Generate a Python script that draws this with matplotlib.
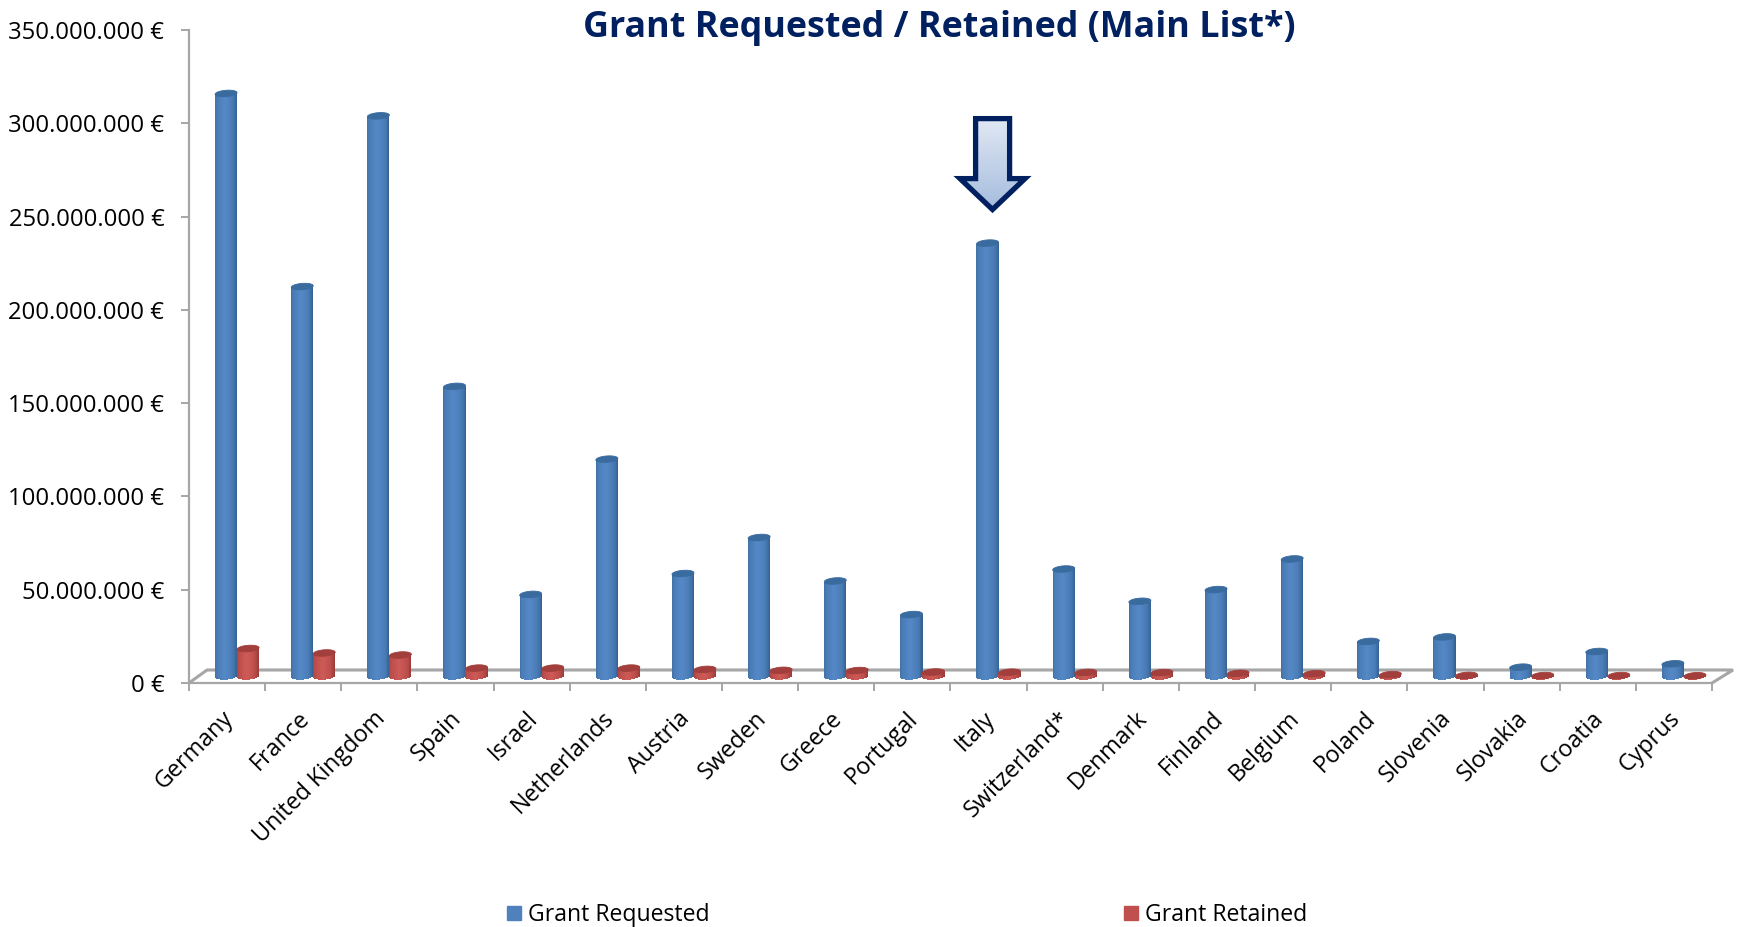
import numpy as np
import matplotlib
matplotlib.use('Agg')
import matplotlib.pyplot as plt
from matplotlib.patches import Patch, Polygon
from matplotlib.transforms import Affine2D

countries = ['Germany', 'France', 'United Kingdom', 'Spain', 'Israel', 'Netherlands',
             'Austria', 'Sweden', 'Greece', 'Portugal', 'Italy', 'Switzerland*',
             'Denmark', 'Finland', 'Belgium', 'Poland', 'Slovenia', 'Slovakia',
             'Croatia', 'Cyprus']

# values in millions of euro
requested = [312.5, 209, 300.5, 155.5, 44, 116.5, 55.2, 74.5, 51.2, 33.2, 232.3, 57.6,
             40.3, 46.6, 63, 18.8, 21.2, 5, 13.4, 6.8]
retained = [15, 12.6, 11.5, 4.5, 4.5, 4.5, 3.8, 3.3, 3.2, 2.4, 2.3, 2.2,
            2.1, 1.7, 1.5, 1.0, 0.6, 0.5, 0.5, 0.4]

y_ticks = [0, 50, 100, 150, 200, 250, 300, 350]

plt.rcParams['font.family'] = ['Open Sans', 'DejaVu Sans']

W, H = 1738, 927
fig = plt.figure(figsize=(W / 100, H / 100), dpi=100)
ax = fig.add_axes([189 / W, (H - 683) / H, (1712 - 189) / W, (683 - 30) / H])
ax.set_xlim(0, 20)
ax.set_ylim(0, 350)

# pixel coordinates of the image, for the decorations
px = Affine2D().scale(1, -1).translate(0, H)
# the cylinders stand in the middle of the floor
shift = ax.transData + Affine2D().translate(10, 6.5)

GRAY = '#a6a6a6'
NAVY = '#002060'

# floor
ax.plot([189, 207, 1733, 1712], [683, 670, 670, 683], color=GRAY, lw=2.2,
        transform=px, clip_on=False, zorder=1, solid_joinstyle='miter')

x_unit = 1 / 76.15
y_unit = 350 / 653
bar_w = 22 * x_unit
depth = 3.2 * y_unit
tilt = 0.8 * y_unit
N = 24


def shade(u, dark, mid, light):
    # dark at both edges, lightest a bit left of the middle
    t = np.clip(1 - np.abs(u + 0.1) / 1.1, 0, 1) ** 0.55
    dark, mid, light = [np.array(matplotlib.colors.to_rgb(c)) for c in (dark, mid, light)]
    if t < 0.6:
        return dark + (mid - dark) * t / 0.6
    return mid + (light - mid) * (t - 0.6) / 0.4


def cylinders(centers, values, colors, top_color):
    values = np.array(values)
    for k in range(N):
        u = (k + 0.5) / N * 2 - 1
        low = -depth * np.sqrt(1 - u ** 2) + tilt * u
        ax.bar(centers + u * bar_w / 2, values + tilt * u - low, bar_w / N * 1.2, bottom=low,
               color=[shade(u, *colors)], linewidth=0, transform=shift, zorder=3, clip_on=False)
    t = np.linspace(0, 2 * np.pi, 60)
    for c, v in zip(centers, values):
        ax.fill(c + np.cos(t) * bar_w / 2, v + tilt * np.cos(t) + depth * np.sin(t),
                color=top_color, linewidth=0.6, transform=shift, zorder=4, clip_on=False)


pos = np.arange(len(countries)) + 0.5
cylinders(pos - bar_w / 2, requested, ('#2f5a88', '#4a7cb6', '#5488c6'), '#3a6b9f')
cylinders(pos + bar_w / 2, retained, ('#8c3533', '#bd4e4b', '#cd5a57'), '#a23e3b')

# arrow over Italy
arrow_xy = [(975.6, 118.6), (1009.6, 118.6), (1009.6, 178.6), (1025, 178.6), (992.5, 209.5),
            (960, 178.6), (975.6, 178.6)]
grad = np.linspace(0, 1, 100)[:, None]
cmap = matplotlib.colors.LinearSegmentedColormap.from_list('arrow', ['#e2e9f4', '#a3bbdd'])
im = ax.imshow(grad, cmap=cmap, aspect='auto', extent=(953, 1032, 213, 116), origin='upper',
               transform=px, zorder=5, clip_on=True)
arrow = Polygon(arrow_xy, closed=True, facecolor='none', edgecolor=NAVY, linewidth=3.8,
                transform=px, zorder=6, clip_on=False, joinstyle='miter')
ax.add_patch(arrow)
im.set_clip_path(arrow)

ax.set_xlim(0, 20)
ax.set_ylim(0, 350)

# axes
for side in ['top', 'right']:
    ax.spines[side].set_visible(False)
for side in ['left', 'bottom']:
    ax.spines[side].set_color(GRAY)
    ax.spines[side].set_linewidth(1.6)

ax.set_yticks(y_ticks)
ax.set_yticklabels([f'{v * 1000000:,}'.replace(',', '.') + ' €' for v in y_ticks], fontsize=17.2, color='black')
ax.tick_params(axis='y', length=5.8, width=1.4, color=GRAY, pad=12)
ax.set_xticks(np.arange(len(countries) + 1))
ax.set_xticklabels([])
ax.tick_params(axis='x', which='major', length=5.8, width=1.4, color=GRAY)
ax.set_xticks(pos - 6 * x_unit, minor=True)
ax.set_xticklabels(countries, minor=True, rotation=45, ha='right', va='top',
                   rotation_mode='anchor', fontsize=16.8, color='black')
ax.tick_params(axis='x', which='minor', length=0, pad=17)

fig.text(939 / W, (H - 28) / H, 'Grant Requested / Retained (Main List*)', ha='center', va='center',
         fontsize=25.8, fontweight='bold', color=NAVY)

handles = [Patch(color='#4f81bd', label='Grant Requested'), Patch(color='#c0504d', label='Grant Retained')]
fig.legend(handles=handles, ncol=2, frameon=False, fontsize=16.6, loc='center left',
           bbox_to_anchor=(507 / W, (H - 915) / H), handlelength=0.6, handleheight=0.6,
           handletextpad=0.3, columnspacing=18.0, borderpad=0, borderaxespad=0)

fig.savefig('out.png', dpi=100)
